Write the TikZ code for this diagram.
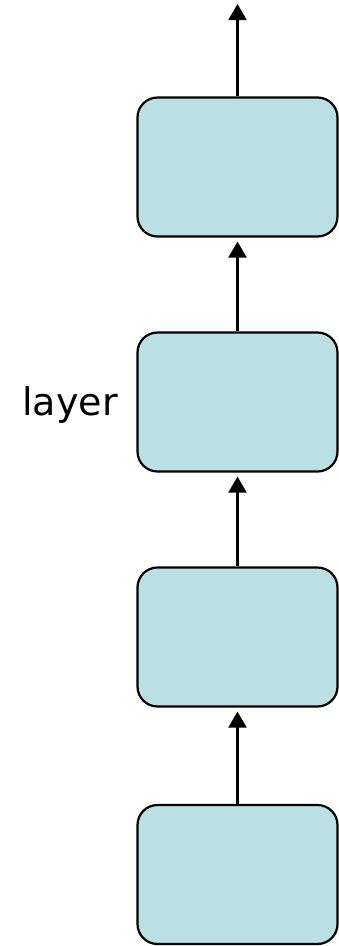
\documentclass[tikz,border=0pt]{standalone}
\usepackage{fontspec}
\setmainfont{DejaVu Sans}
\usetikzlibrary{arrows.meta}
\definecolor{boxfill}{RGB}{187,224,227}
\begin{document}
\begin{tikzpicture}[x=1pt,y=-1pt,
  layerbox/.style={draw=black, line width=2.2pt, fill=boxfill, rounded corners=20pt,
    minimum width=200pt, minimum height=139pt, inner sep=0pt},
  flow/.style={line width=2.2pt, -{Triangle[length=16pt,width=18pt]}}]
  \useasboundingbox (0,0) rectangle (338,946);
  % stacked layers, bottom to top
  \node[layerbox] (b4) at (237.5,874.5) {};
  \node[layerbox] (b3) at (237.5,637) {};
  \node[layerbox] (b2) at (237.5,402) {};
  \node[layerbox] (b1) at (237.5,167) {};
  \coordinate (out) at (237.5,4);
  % connections
  \draw[flow, shorten >=4pt] (b4.north) -- (b3.south);
  \draw[flow, shorten >=4pt] (b3.north) -- (b2.south);
  \draw[flow, shorten >=4pt] (b2.north) -- (b1.south);
  \draw[flow] (b1.north) -- (out);
  % label
  \node[font=\fontsize{38}{44}\selectfont, anchor=base] (lbl) at (70,415) {layer};
\end{tikzpicture}
\end{document}
